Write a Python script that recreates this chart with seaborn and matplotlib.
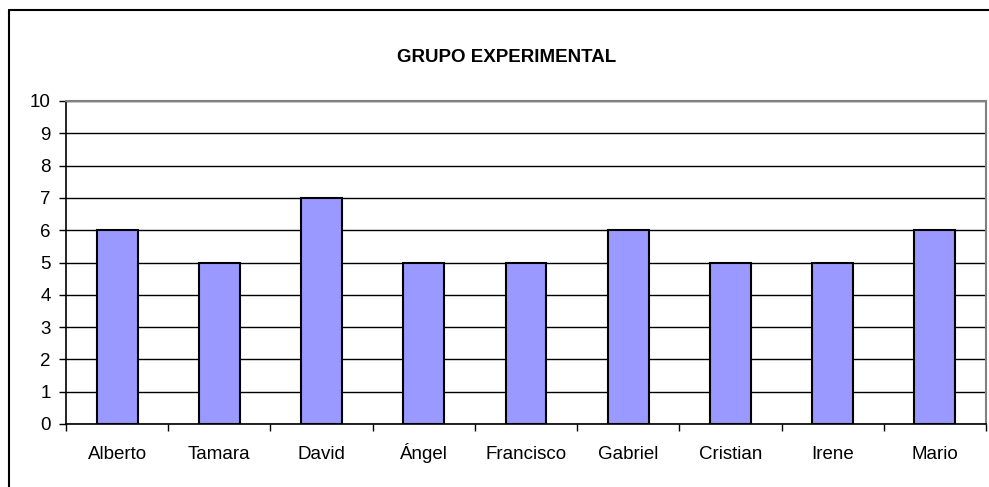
import matplotlib
matplotlib.use("Agg")
import matplotlib.pyplot as plt
import seaborn as sns
import pandas as pd
from matplotlib.lines import Line2D

# data
nombres = ["Alberto", "Tamara", "David", "Ángel", "Francisco", "Gabriel", "Cristian", "Irene", "Mario"]
notas = [6, 5, 7, 5, 5, 6, 5, 5, 6]
titulo = "GRUPO EXPERIMENTAL"

df = pd.DataFrame({"nombre": nombres, "nota": notas})

sns.set_style("white")
plt.rcParams["font.family"] = ["Liberation Sans", "DejaVu Sans"]
plt.rcParams["text.color"] = "black"
plt.rcParams["xtick.color"] = "black"
plt.rcParams["ytick.color"] = "black"

W, H = 989, 487
fig = plt.figure(figsize=(W / 100, H / 100), dpi=100)
ax = fig.add_axes([66 / W, 1 - 424 / H, (986 - 66) / W, (424 - 101) / H])

sns.barplot(data=df, x="nombre", y="nota", color="#9999FF", saturation=1,
            width=0.4, edgecolor="black", linewidth=1.5, ax=ax, zorder=3)

ax.set_xlim(-0.5, len(nombres) - 0.5)
ax.set_ylim(0, 10)
ax.set_yticks(range(0, 11))
ax.yaxis.grid(True, color="black", linewidth=1, zorder=0)
ax.set_axisbelow(True)

# ticks between categories, like the original
ax.set_xticks([i + 0.5 for i in range(-1, len(nombres))], minor=True)
ax.tick_params(axis="x", which="minor", length=5, width=1, color="black", direction="out")
ax.tick_params(axis="x", which="major", length=0, pad=25, labelsize=13.5, labelcolor="black")
ax.tick_params(axis="y", length=5, width=1, color="black", direction="out", labelsize=13.5,
               pad=6, labelcolor="black")
ax.xaxis.set_ticks_position("bottom")
ax.yaxis.set_ticks_position("left")
for lab in ax.get_xticklabels():
    lab.set_va("baseline")

for s in ["left", "bottom"]:
    ax.spines[s].set_color("black")
    ax.spines[s].set_linewidth(1.2)
for s in ["top", "right"]:
    ax.spines[s].set_color("#808080")
    ax.spines[s].set_linewidth(1.5)

ax.set_xlabel("")
ax.set_ylabel("")

fig.text(507 / W, 1 - 57 / H, titulo, ha="center", va="center",
         fontsize=13.5, fontweight="bold", color="black")

# chart outer border (only left and top fall inside the image)
bx, by = 8.5 / W, 1 - 9.5 / H
fig.add_artist(Line2D([bx, bx], [0, by], transform=fig.transFigure, color="black", linewidth=1.5))
fig.add_artist(Line2D([bx, 1], [by, by], transform=fig.transFigure, color="black", linewidth=1.5))

fig.savefig("out.png", dpi=100)
